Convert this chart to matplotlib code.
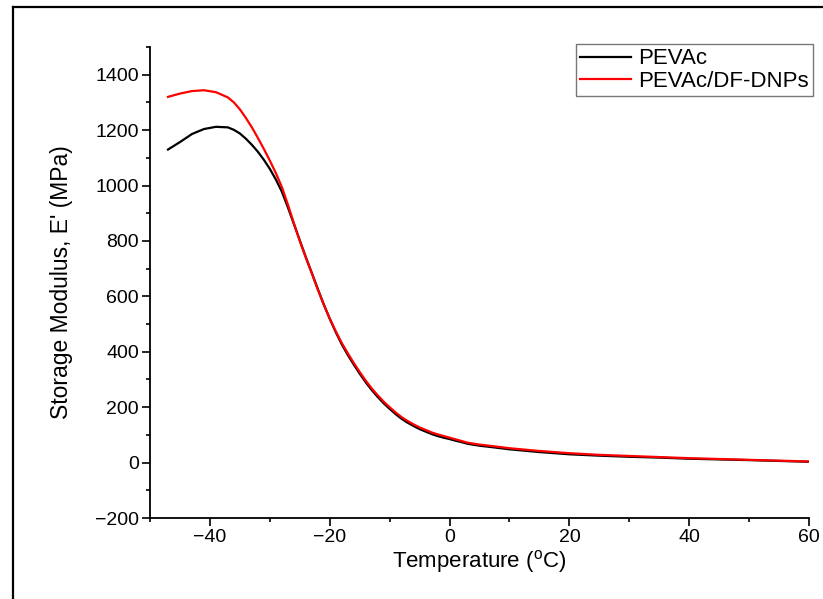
import matplotlib
matplotlib.use('Agg')
import matplotlib.pyplot as plt
from matplotlib.lines import Line2D
from matplotlib.ticker import MultipleLocator

plt.rcParams['font.family'] = ['Liberation Sans', 'DejaVu Sans']
plt.rcParams['mathtext.fontset'] = 'custom'
plt.rcParams['mathtext.rm'] = 'Liberation Sans'

# temperatura (C)
temp = [-47, -45, -43, -41, -39, -37, -36, -35, -34, -33, -32, -31, -30, -29,
        -28, -27, -26, -25, -24, -23, -22, -21, -20, -19, -18, -17, -16, -15,
        -14, -13, -12, -11, -10, -9, -8, -7, -6, -5, -4, -3, -2, -1, 0, 1, 2,
        3, 5, 7, 10, 15, 20, 25, 30, 35, 40, 50, 60]

# modulo de armazenamento (MPa)
pevac = [1130, 1157, 1186, 1204, 1212, 1210, 1201, 1188, 1169, 1147, 1122,
         1093, 1060, 1022, 978, 922, 862, 802, 742, 685, 627, 571, 519, 471,
         427, 389, 354, 321, 290, 262, 237, 214, 194, 175, 158, 144, 132, 121,
         112, 103, 96, 90, 85, 79, 74, 68, 61, 56, 48, 38, 30, 25, 21, 18, 14,
         9, 3]
pevac_dnp = [1320, 1332, 1341, 1344, 1337, 1318, 1300, 1275, 1244, 1210, 1172,
             1132, 1090, 1045, 995, 932, 865, 800, 740, 683, 625, 570, 520,
             474, 432, 395, 360, 327, 296, 268, 243, 220, 200, 181, 164, 150,
             138, 127, 118, 109, 102, 96, 90, 84, 78, 72, 65, 60, 52, 42, 34,
             28, 24, 20, 16, 10, 4]

fig = plt.figure(figsize=(8.23, 5.99), dpi=100)
ax = fig.add_axes([0.1823, 0.1352, 0.8007, 0.7863])

ax.plot(temp, pevac, color='black', lw=1.6, label='PEVAc')
ax.plot(temp, pevac_dnp, color='#ff0000', lw=1.6, label='PEVAc/DF-DNPs')

ax.set_xlim(-50, 60)
ax.set_ylim(-200, 1500)
ax.xaxis.set_major_locator(MultipleLocator(20))
ax.xaxis.set_minor_locator(MultipleLocator(10))
ax.yaxis.set_minor_locator(MultipleLocator(100))
ax.set_yticks([-200, 0, 200, 400, 600, 800, 1000, 1200, 1400])

ax.spines['top'].set_visible(False)
ax.spines['right'].set_visible(False)
for s in ['left', 'bottom']:
    ax.spines[s].set_linewidth(1.3)

ax.tick_params(which='major', direction='out', length=6, width=1.2,
               labelsize=14, pad=2)
ax.tick_params(which='minor', direction='out', length=3, width=1.2)

ax.set_xlabel(r'Temperature ($\mathregular{^o}$C)', fontsize=16, labelpad=1)
ax.set_ylabel("Storage Modulus, E' (MPa)", fontsize=16.5, labelpad=16)

leg = ax.legend(loc='upper right', fontsize=16, frameon=True, fancybox=False,
                edgecolor='#555555', handlelength=2.3, handletextpad=0.3,
                borderpad=0.2, labelspacing=0.05, borderaxespad=0,
                bbox_to_anchor=(813 / 823, 1 - 44 / 599),
                bbox_transform=fig.transFigure)
leg.get_frame().set_linewidth(1.0)

# moldura da figura
fig.add_artist(Line2D([0.0158, 0.0158], [0.0, 0.9878], color='black', lw=1.6,
                      transform=fig.transFigure))
fig.add_artist(Line2D([0.0158, 1.0], [0.9878, 0.9878], color='black', lw=1.6,
                      transform=fig.transFigure))

fig.savefig('out.png', dpi=100)
